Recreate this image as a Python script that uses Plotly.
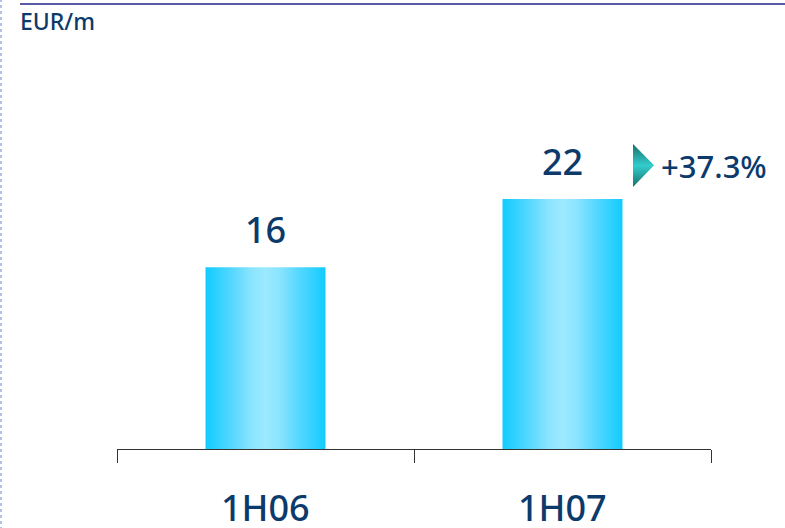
import plotly.graph_objects as go

categories = ["1H06", "1H07"]
values = [16, 22]
value_labels = ["16", "22"]
growth_label = "+37.3%"
unit_label = "EUR/m"

NAVY = "#0b3a6b"
FONT = "Noto Sans"
BAR_HALF = 0.202

fig = go.Figure()

bar_scale = [[0, "#12ccff"], [0.2, "#4fd6ff"], [0.38, "#8ae4ff"], [0.5, "#9ceaff"],
             [0.62, "#8ae4ff"], [0.8, "#4fd6ff"], [1, "#12ccff"]]
for i, (cat, v) in enumerate(zip(categories, values)):
    fig.add_trace(go.Scatter(
        x=[i - BAR_HALF, i + BAR_HALF, i + BAR_HALF, i - BAR_HALF, i - BAR_HALF],
        y=[0, 0, v, v, 0],
        mode="lines", line=dict(width=0), fill="toself",
        fillgradient=dict(type="horizontal", colorscale=bar_scale),
        hoverinfo="skip", showlegend=False, name=cat,
    ))
    fig.add_annotation(x=i, y=v, xref="x", yref="y", text=value_labels[i],
                       showarrow=False, yanchor="bottom", yshift=11,
                       font=dict(family=FONT, size=36, color=NAVY, weight=500))
    fig.add_annotation(x=i, y=0, xref="x", yref="y", text=cat,
                       showarrow=False, yanchor="top", yshift=-32,
                       font=dict(family=FONT, size=36, color=NAVY, weight=500))

# growth triangle marker
fig.add_trace(go.Scatter(
    x=[1.2374, 1.3081, 1.2374, 1.2374],
    y=[26.83, 24.97, 23.04, 26.83],
    mode="lines", line=dict(width=0), fill="toself",
    fillgradient=dict(type="vertical",
                      colorscale=[[0, "#17706c"], [0.5, "#33cccc"], [1, "#17706c"]]),
    hoverinfo="skip", showlegend=False,
))
fig.add_annotation(x=(659 - 117) / 594, y=(449 - 166) / 341, xref="paper", yref="paper",
                   text=growth_label, showarrow=False, xanchor="left", yanchor="middle",
                   font=dict(family=FONT, size=31, color=NAVY, weight=500))

fig.add_annotation(x=(18 - 117) / 594, y=(449 - 21) / 341, xref="paper", yref="paper",
                   text=unit_label, showarrow=False, xanchor="left", yanchor="middle",
                   font=dict(family=FONT, size=23, color=NAVY, weight=500))

# top rule and left dotted border
fig.add_shape(type="line", xref="paper", yref="paper",
              x0=(20 - 117) / 594, x1=(786 - 117) / 594,
              y0=(449 - 4) / 341, y1=(449 - 4) / 341,
              line=dict(color="#1f2585", width=1.5))
fig.add_shape(type="line", xref="paper", yref="paper",
              x0=(1 - 117) / 594, x1=(1 - 117) / 594,
              y0=(449 - 530) / 341, y1=(449 + 2) / 341,
              line=dict(color="#b4c2ea", width=2, dash="dot"))

fig.update_layout(
    width=785, height=528,
    margin=dict(l=117, r=74, t=108, b=79),
    paper_bgcolor="white", plot_bgcolor="white",
    xaxis=dict(range=[-0.5, 1.5], tickvals=[-0.5, 0.5, 1.5], ticks="outside",
               ticklen=13, tickcolor="#333333", tickwidth=1,
               showticklabels=False, showline=True, linecolor="#333333",
               linewidth=1, showgrid=False, zeroline=False, fixedrange=True),
    yaxis=dict(range=[0, 30], visible=False, showgrid=False, zeroline=False,
               fixedrange=True),
    showlegend=False,
)

fig.write_html("out.html")
